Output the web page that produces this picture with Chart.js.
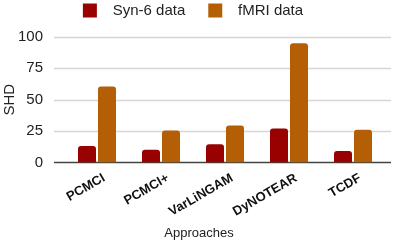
<!DOCTYPE html>
<html>
<head>
<meta charset="utf-8">
<script src="https://cdn.jsdelivr.net/npm/chart.js@4"></script>
<style>
  html, body { margin: 0; padding: 0; background: #fff; }
  #wrap { width: 398px; height: 241px; }
</style>
</head>
<body>
<div id="wrap"><canvas id="myChart"></canvas></div>
<script>
var approaches = ['PCMCI', 'PCMCI+', 'VarLiNGAM', 'DyNOTEAR', 'TCDF'];
var synData = [13, 10, 14.5, 27, 9];
var fmriData = [60.5, 25.5, 29.5, 95, 26];
var yTicks = [0, 25, 50, 75, 100];

var FONT = "'Liberation Sans', Arial, sans-serif";

// horizontal gridlines run wider than the bar area, like the original
var wideGrid = {
  id: 'wideGrid',
  beforeDatasetsDraw: function (chart) {
    var c = chart.ctx, y = chart.scales.y;
    c.save();
    yTicks.forEach(function (t) {
      var py = Math.round(y.getPixelForValue(t)) + 0.5;
      c.beginPath();
      if (t === 0) { c.strokeStyle = '#444'; c.lineWidth = 1.5; }
      else { c.strokeStyle = '#d6d6d6'; c.lineWidth = 1.5; }
      c.moveTo(54, py);
      c.lineTo(391, py);
      c.stroke();
    });
    c.restore();
  }
};

// fixed legend band, legend drawn near the top edge
var legendBox = {
  id: 'legendBox',
  beforeInit: function (chart) {
    var fit = chart.legend.fit;
    chart.legend.fit = function () {
      fit.bind(chart.legend)();
      this.height = 37;
    };
  },
  beforeDraw: function (chart) {
    chart.legend.top = -20;
    chart.legend.right = 386;
  }
};

var ctx = document.getElementById('myChart').getContext('2d');
var myChart = new Chart(ctx, {
  type: 'bar',
  data: {
    labels: approaches,
    datasets: [{
      label: 'Syn-6 data',
      data: synData,
      backgroundColor: '#990000',
      borderRadius: 3,
      barPercentage: 0.9,
      categoryPercentage: 0.625
    }, {
      label: 'fMRI data',
      data: fmriData,
      backgroundColor: '#b45f06',
      borderRadius: 3,
      barPercentage: 0.9,
      categoryPercentage: 0.625
    }]
  },
  options: {
    responsive: true,
    maintainAspectRatio: false,
    animation: false,
    layout: { padding: 0 },
    plugins: {
      legend: {
        position: 'top',
        labels: {
          boxWidth: 14,
          boxHeight: 14,
          padding: 23,
          color: '#222',
          font: { family: FONT, size: 15 },
          generateLabels: function (chart) {
            var items = Chart.defaults.plugins.legend.labels.generateLabels(chart);
            items.forEach(function (it) { it.text = '  ' + it.text; });
            return items;
          }
        }
      },
      title: {
        display: true,
        position: 'bottom',
        text: 'Approaches',
        color: '#222',
        padding: { top: 0, bottom: 0 },
        font: { family: FONT, size: 13, weight: 'normal' }
      },
      tooltip: { enabled: false }
    },
    scales: {
      x: {
        grid: { display: false },
        border: { display: false },
        ticks: {
          color: '#111',
          maxRotation: 30,
          minRotation: 30,
          padding: 0,
          labelOffset: 7,
          font: { family: FONT, size: 13, weight: 'bold' }
        },
        afterFit: function (s) { s.height = 63; }
      },
      y: {
        min: 0,
        max: 100,
        grid: { display: false },
        border: { display: false },
        ticks: {
          stepSize: 25,
          color: '#222',
          padding: 14,
          font: { family: FONT, size: 15 }
        },
        title: {
          display: true,
          text: 'SHD',
          color: '#222',
          padding: { top: 1, bottom: 0 },
          font: { family: FONT, size: 15 }
        },
        afterFit: function (s) { s.width = 65; }
      },
      yRight: {
        position: 'right',
        display: true,
        grid: { display: false },
        border: { display: false },
        ticks: { display: false },
        afterFit: function (s) { s.width = 13; }
      }
    }
  },
  plugins: [wideGrid, legendBox]
});
</script>
</body>
</html>
